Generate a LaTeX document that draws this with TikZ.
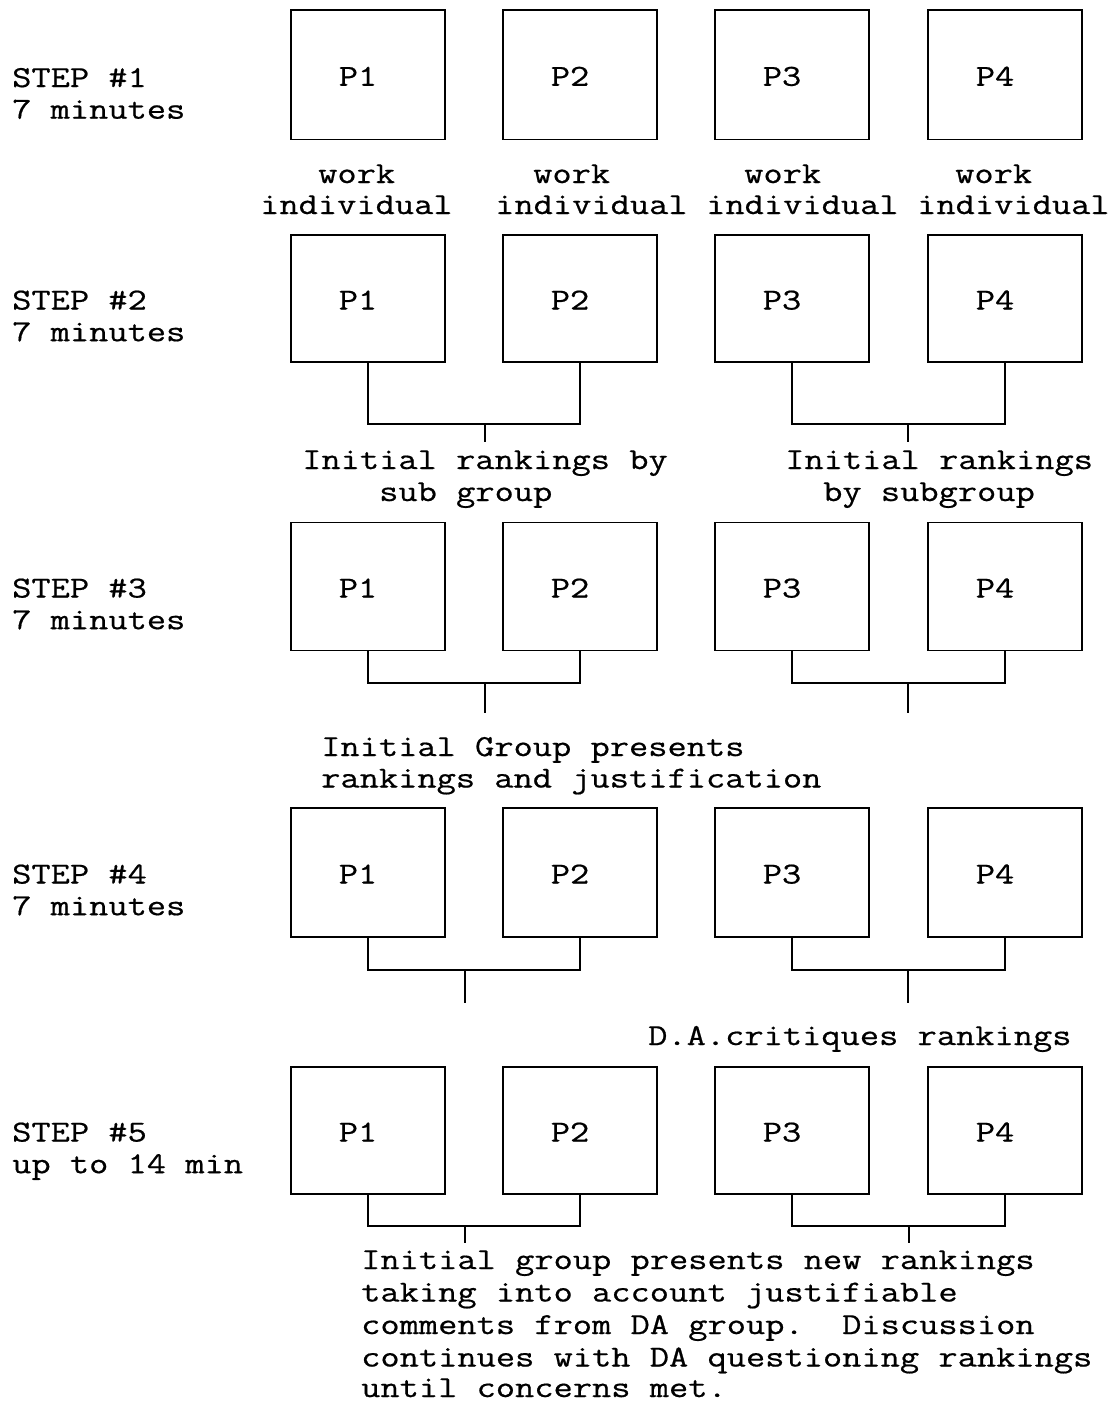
\documentclass[tikz,border=0pt]{standalone}
\usepackage{fontspec}
\newfontfamily\monofam[FakeStretch=1.225, FakeBold=0.6]{Latin Modern Mono}
\usetikzlibrary{calc}
\frenchspacing

\tikzset{
  pbox/.style={draw, line width=1.6pt, minimum width=154pt, inner sep=0pt},
  plabel/.style={font=\monofam\fontsize{30.5}{32}\selectfont, inner sep=0pt, anchor=base},
  txt/.style={font=\monofam\fontsize{30.5}{32}\selectfont, inner sep=0pt, anchor=base west},
  wire/.style={line width=1.6pt, line join=miter},
}

\begin{document}
\begin{tikzpicture}[x=1pt, y=-1pt]
\useasboundingbox (0,0) rectangle (1111,1401);

% rows of participant boxes: row / vertical centre / height
\foreach \r/\yc/\h in {1/74.75/129.5, 2/298.5/127, 3/586.5/128, 4/872.5/129, 5/1130.5/127} {
  \foreach \c/\xc in {1/368, 2/580, 3/792, 4/1005} {
    \node[pbox, minimum height=\h pt] (r\r p\c) at (\xc,\yc) {};
    \node[plabel] (r\r l\c) at (\xc-10,\yc+11) {P\c};
  }
}

% step captions
\node[txt] (s1a) at (12,87)     {STEP \#1};
\node[txt] (s1b) at (12,118.7)  {7 minutes};
\node[txt] (s2a) at (12,309.5)  {STEP \#2};
\node[txt] (s2b) at (12,341.2)  {7 minutes};
\node[txt] (s3a) at (12,597.5)  {STEP \#3};
\node[txt] (s3b) at (12,629.2)  {7 minutes};
\node[txt] (s4a) at (12,883.5)  {STEP \#4};
\node[txt] (s4b) at (12,915.2)  {7 minutes};
\node[txt] (s5a) at (12,1141.5) {STEP \#5};
\node[txt] (s5b) at (12,1173.2) {up to 14 min};

% step 1: individual work
\node[txt] (w1a) at (318,183)   {work};
\node[txt] (w1b) at (260,214)   {individual};
\node[txt] (w2a) at (533,183)   {work};
\node[txt] (w2b) at (495,214)   {individual};
\node[txt] (w3a) at (744,183)   {work};
\node[txt] (w3b) at (706,214)   {individual};
\node[txt] (w4a) at (955,183)   {work};
\node[txt] (w4b) at (917,214)   {individual};

% step 2: sub groups
\coordinate (r2j) at (485,424);  \coordinate (r2js) at (485,442);
\coordinate (r2k) at (908,424);  \coordinate (r2ks) at (908,442);
\draw[wire] (r2p1.south) |- (r2j) -| (r2p2.south);
\draw[wire] (r2j) -- (r2js);
\draw[wire] (r2p3.south) |- (r2k) -| (r2p4.south);
\draw[wire] (r2k) -- (r2ks);
\node[txt] (t2a) at (302,469)   {Initial rankings by};
\node[txt] (t2b) at (379,501)   {sub group};
\node[txt] (t2c) at (785,469)   {Initial rankings};
\node[txt] (t2d) at (823,501)   {by subgroup};

% step 3: presentation
\coordinate (r3j) at (485,683);  \coordinate (r3js) at (485,713);
\coordinate (r3k) at (908,683);  \coordinate (r3ks) at (908,713);
\draw[wire] (r3p1.south) |- (r3j) -| (r3p2.south);
\draw[wire] (r3j) -- (r3js);
\draw[wire] (r3p3.south) |- (r3k) -| (r3p4.south);
\draw[wire] (r3k) -- (r3ks);
\node[txt] (t3a) at (321,756)   {Initial Group presents};
\node[txt] (t3b) at (321,787.5) {rankings and justification};

% step 4: critique
\coordinate (r4j) at (465,970);  \coordinate (r4js) at (465,1003);
\coordinate (r4k) at (908,970);  \coordinate (r4ks) at (908,1003);
\draw[wire] (r4p1.south) |- (r4j) -| (r4p2.south);
\draw[wire] (r4j) -- (r4js);
\draw[wire] (r4p3.south) |- (r4k) -| (r4p4.south);
\draw[wire] (r4k) -- (r4ks);
\node[txt] (t4a) at (648,1045)  {D.A.critiques rankings};

% step 5: revised rankings and discussion
\coordinate (r5j) at (465,1226); \coordinate (r5js) at (465,1243);
\coordinate (r5k) at (909,1226); \coordinate (r5ks) at (909,1243);
\draw[wire] (r5p1.south) |- (r5j) -| (r5p2.south);
\draw[wire] (r5j) -- (r5js);
\draw[wire] (r5p3.south) |- (r5k) -| (r5p4.south);
\draw[wire] (r5k) -- (r5ks);
\node[txt] (t5a) at (361,1269)   {Initial group presents new rankings};
\node[txt] (t5b) at (361,1301.5) {taking into account justifiable};
\node[txt] (t5c) at (361,1334)   {comments from DA group.\ \ Discussion};
\node[txt] (t5d) at (361,1366.5) {continues with DA questioning rankings};
\node[txt] (t5e) at (361,1397)   {until concerns met.};
\end{tikzpicture}
\end{document}
